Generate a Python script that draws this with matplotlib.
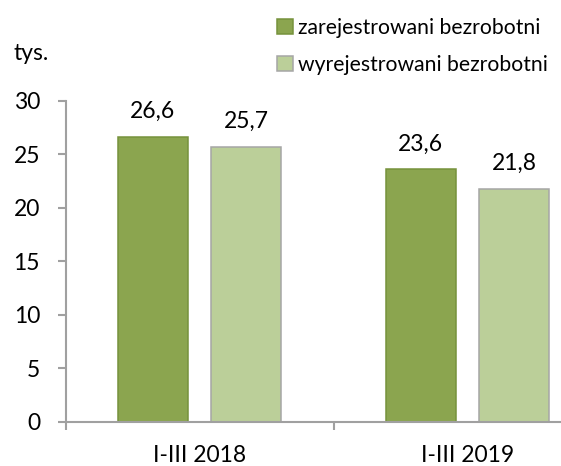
import matplotlib
matplotlib.use("Agg")
import matplotlib.pyplot as plt
import numpy as np

categories = ["I-III 2018", "I-III 2019"]
series_names = ["zarejestrowani bezrobotni", "wyrejestrowani bezrobotni"]
registered = [26.6, 23.6]
deregistered = [25.7, 21.8]
y_ticks = [0, 5, 10, 15, 20, 25, 30]
unit_label = "tys."

plt.rcParams['font.family'] = ['Lato', 'DejaVu Sans']
FS = 16.5
LFS = 15.2

fig = plt.figure(figsize=(5.61, 4.66), dpi=100)
W, H = 561, 466
ax = fig.add_axes([65.5 / W, 1 - 421.7 / H, (601.5 - 65.5) / W, (421.7 - 101) / H])

x = np.arange(len(categories))
bw = 0.262
off = 0.174
dark = "#8BA54F"
dark_edge = "#76923C"
light = "#BBCF99"
light_edge = "#A6A6A6"

b1 = ax.bar(x - off, registered, bw, color=dark, edgecolor=dark_edge, linewidth=1.1,
            label=series_names[0])
b2 = ax.bar(x + off, deregistered, bw, color=light, edgecolor=light_edge, linewidth=1.1,
            label=series_names[1])

for bars, vals in ((b1, registered), (b2, deregistered)):
    for r, v in zip(bars, vals):
        ax.annotate(f"{v:.1f}".replace(".", ","), (r.get_x() + r.get_width() / 2, v),
                    xytext=(0, 13.7), textcoords="offset points",
                    ha="center", va="baseline", fontsize=FS, color="black")

ax.set_xlim(-0.5, len(categories) - 0.5)
ax.set_ylim(0, 30)
ax.set_yticks(y_ticks)
ax.set_xticks(np.arange(len(categories) + 1) - 0.5)
ax.set_xticklabels([])
ax.set_xticks(x, minor=True)
ax.set_xticklabels(categories, minor=True, fontsize=FS)

axis_col = "#A0A0A0"
for s in ["top", "right"]:
    ax.spines[s].set_visible(False)
for s in ["left", "bottom"]:
    ax.spines[s].set_color(axis_col)
    ax.spines[s].set_linewidth(1.5)
ax.tick_params(axis="y", which="major", length=6, width=1.5, color=axis_col,
               pad=12.3, labelsize=FS)
ax.tick_params(axis="x", which="major", length=6, width=1.5, color=axis_col)
ax.tick_params(axis="x", which="minor", length=0, pad=16.5, labelsize=FS)

fig.text(14 / W, 1 - 59.5 / H, unit_label, fontsize=FS, ha="left", va="baseline")

leg = ax.legend(handles=[b1, b2], loc="upper left",
                bbox_to_anchor=(277 / W, 1 - 18 / H), bbox_transform=fig.transFigure,
                frameon=False, fontsize=LFS, borderpad=0, borderaxespad=0,
                handlelength=0.74, handleheight=0.74, handletextpad=0.25,
                labelspacing=0.8)

fig.savefig("out.png", dpi=100)
